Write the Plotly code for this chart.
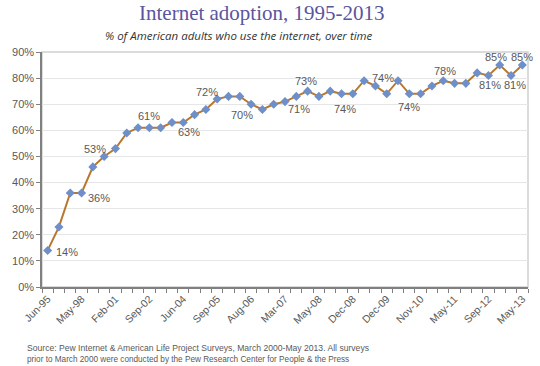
import plotly.graph_objects as go

# ---- data ----
categories = ["Jun-95", "", "", "May-98", "", "", "Feb-01", "", "", "Sep-02", "", "",
              "Jun-04", "", "", "Sep-05", "", "", "Aug-06", "", "", "Mar-07", "", "",
              "May-08", "", "", "Dec-08", "", "", "Dec-09", "", "", "Nov-10", "", "",
              "May-11", "", "", "Sep-12", "", "", "May-13"]
values = [14, 23, 36, 36, 46, 50, 53, 59, 61, 61, 61, 63, 63, 66, 68, 72, 73, 73,
          70, 68, 70, 71, 73, 75, 73, 75, 74, 74, 79, 77, 74, 79, 74, 74, 77, 79,
          78, 78, 82, 81, 85, 81, 85]
# indices of labelled points, with label offsets (px)
label_idx = [0, 3, 6, 9, 12, 15, 18, 21, 24, 27, 30, 32, 36, 39, 40, 41, 42]
label_dx = [19, 17, -20, 0, 6, -10, -9, 14, -13, -8, -4, 0, -10, 2, -4, 4, 0]
label_dy = [-2, -5, 0, 12, -9, 7, -11, -7, 15, -15, 16, -13, 12, -9, 8, -9, 8]
y_ticks = [0, 10, 20, 30, 40, 50, 60, 70, 80, 90]

xs = list(range(len(values)))
tick_pos = [i for i, c in enumerate(categories) if c]
tick_txt = [c for c in categories if c]

fig = go.Figure()
fig.add_trace(go.Scatter(
    x=xs, y=values, mode="lines+markers",
    line=dict(color="#B8772F", width=2),
    marker=dict(symbol="diamond", size=7, color="#6F8FC8"),
    hoverinfo="skip", showlegend=False,
))

annotations = []
for i, dx, dy in zip(label_idx, label_dx, label_dy):
    annotations.append(dict(
        x=i, y=values[i], xref="x", yref="y", text=f"{values[i]}%",
        showarrow=False, xshift=dx, yshift=dy,
        font=dict(family="Liberation Sans, Arial", size=11, color="#595959"),
    ))

annotations += [
    dict(x=0.4537, y=1.168, xref="paper", yref="paper", xanchor="center", yanchor="middle",
         text="Internet adoption, 1995-2013", showarrow=False,
         font=dict(family="Liberation Serif, Georgia, serif", size=21, color="#5A559F")),
    dict(x=0.405, y=1.071, xref="paper", yref="paper", xanchor="center", yanchor="middle",
         text="<i>% of American adults who use the internet, over time</i>", showarrow=False,
         font=dict(family="Open Sans", size=11.5, color="#333333")),
    dict(x=-0.035, y=-0.26, xref="paper", yref="paper", xanchor="left", yanchor="middle",
         text="Source: Pew Internet & American Life Project Surveys, March 2000-May 2013. All surveys",
         showarrow=False, font=dict(family="Liberation Sans, Arial", size=8.6, color="#595959")),
    dict(x=-0.035, y=-0.31, xref="paper", yref="paper", xanchor="left", yanchor="middle",
         text="prior to March 2000 were conducted by the Pew Research Center for People & the Press",
         showarrow=False, font=dict(family="Liberation Sans, Arial", size=8.2, color="#595959")),
]

fig.update_layout(
    width=540, height=366,
    margin=dict(l=42, r=12, t=52, b=79),
    paper_bgcolor="white", plot_bgcolor="white",
    annotations=annotations,
    shapes=[dict(type="rect", xref="paper", yref="paper", x0=0, y0=0, x1=1, y1=1,
                 line=dict(color="#D0D0D0", width=1.5), layer="below")],
    xaxis=dict(
        range=[-0.5, len(values) - 0.5],
        tickmode="array", tickvals=tick_pos, ticktext=tick_txt, tickangle=-45,
        ticks="", showgrid=False, zeroline=False,
        showline=True, linecolor="#808080", linewidth=1.5,
        tickfont=dict(family="Liberation Sans, Arial", size=10.5, color="#595959"),
        minor=dict(ticks="outside", tick0=-0.5, dtick=1, ticklen=4, tickcolor="#808080", showgrid=False),
    ),
    yaxis=dict(
        range=[0, 90], tickmode="array", tickvals=y_ticks,
        ticktext=[f"{v}%" for v in y_ticks],
        ticks="outside", ticklen=4, tickcolor="#808080",
        showgrid=True, gridcolor="#E6E6E6", gridwidth=1, zeroline=False,
        showline=True, linecolor="#808080", linewidth=1.5,
        tickfont=dict(family="Liberation Sans, Arial", size=11, color="#595959"),
    ),
)

fig.write_html("out.html", config={"displayModeBar": False},
               post_script="document.body.style.margin='0';document.body.style.overflow='hidden';")
